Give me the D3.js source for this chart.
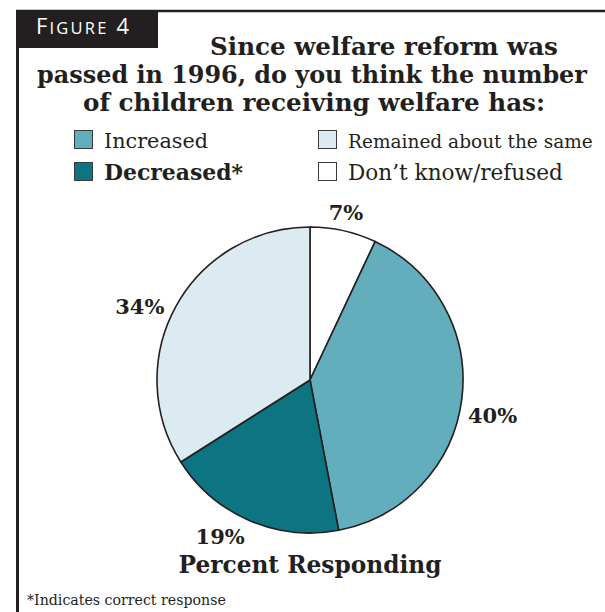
<!DOCTYPE html>
<html>
<head>
<meta charset="utf-8">
<script src="https://cdn.jsdelivr.net/npm/d3@7/dist/d3.min.js"></script>
<style>
  html, body { margin: 0; padding: 0; background: #fff; }
  svg { display: block; }
</style>
</head>
<body>
<svg id="chart" width="605" height="612"></svg>
<script>
// Survey answers, percent responding
const categories = ["Don\u2019t know/refused", "Increased", "Decreased*", "Remained about the same"];
const values = [7, 40, 19, 34];
const colors = ["#ffffff", "#63aebc", "#0d7482", "#dcebf1"];

// Legend layout order (two columns)
const legendOrder = ["Increased", "Decreased*", "Remained about the same", "Don\u2019t know/refused"];
const legendBold = ["Decreased*"];

const titleLines = [
  "Since welfare reform was",
  "passed in 1996, do you think the number",
  "of children receiving welfare has:"
];

const serif = "'DejaVu Serif', 'Liberation Serif', serif";
const svg = d3.select("#chart");

// Fit a text element to a target width by adjusting font-size
function fitWidth(sel, target) {
  const node = sel.node();
  const fs = parseFloat(sel.attr("font-size"));
  const w = node.getComputedTextLength();
  sel.attr("font-size", (fs * target / w).toFixed(2));
}

// Frame: left rule and top rule
svg.append("line").attr("x1", 17.5).attr("x2", 17.5).attr("y1", 10).attr("y2", 612)
  .attr("stroke", "#231f20").attr("stroke-width", 3);
svg.append("line").attr("x1", 16).attr("x2", 605).attr("y1", 11).attr("y2", 11)
  .attr("stroke", "#231f20").attr("stroke-width", 2.5);

// Figure tab
svg.append("rect").attr("x", 16).attr("y", 11).attr("width", 142).attr("height", 37)
  .attr("fill", "#231f20");
const tab = svg.append("text").attr("x", 36).attr("y", 34)
  .attr("fill", "#fff").attr("font-family", "'Open Sans', 'DejaVu Sans', sans-serif")
  .attr("letter-spacing", "2.2px");
tab.append("tspan").attr("font-size", 22).text("F");
tab.append("tspan").attr("font-size", 16.5).text("IGURE");
tab.append("tspan").attr("font-size", 22).attr("dx", 8).text("4");

// Title
const titleSpecs = [
  { x: 384, y: 55, w: 348 },
  { x: 312, y: 83, w: 550 },
  { x: 314, y: 111, w: 462 }
];
titleLines.forEach((t, i) => {
  const s = titleSpecs[i];
  const el = svg.append("text").attr("x", s.x).attr("y", s.y)
    .attr("text-anchor", "middle").attr("font-family", serif)
    .attr("font-weight", "bold").attr("font-size", 22).attr("fill", "#231f20")
    .text(t);
  fitWidth(el, s.w);
});

// Legend
const color = d3.scaleOrdinal().domain(categories).range(colors);
const legendPos = [
  { x: 74, y: 130, tw: 104 },
  { x: 74, y: 162, tw: 139 },
  { x: 318, y: 130, tw: 245 },
  { x: 318, y: 162, tw: 215 }
];
legendOrder.forEach((c, i) => {
  const p = legendPos[i];
  svg.append("rect").attr("x", p.x + 0.5).attr("y", p.y + 0.5)
    .attr("width", 18).attr("height", 18)
    .attr("fill", color(c)).attr("stroke", "#3a3a3a").attr("stroke-width", 1);
  const el = svg.append("text").attr("x", p.x + 30).attr("y", p.y + 18)
    .attr("font-family", serif).attr("font-size", 20).attr("fill", "#231f20")
    .attr("font-weight", legendBold.includes(c) ? "bold" : "normal")
    .text(c);
  fitWidth(el, p.tw);
});

// Pie
const cx = 310, cy = 380, radius = 153;
const pie = d3.pie().sort(null).value(d => d.value);
const arcs = pie(categories.map((c, i) => ({ name: c, value: values[i] })));
const arc = d3.arc().innerRadius(0).outerRadius(radius);

const g = svg.append("g").attr("transform", `translate(${cx},${cy})`);
g.selectAll("path.slice").data(arcs).join("path")
  .attr("class", "slice")
  .attr("d", arc)
  .attr("fill", d => color(d.data.name))
  .attr("stroke", "#231f20").attr("stroke-width", 1.6)
  .attr("stroke-linejoin", "round");

// Percent labels placed just outside each slice; a few are swung
// around the rim (degrees) to keep clear of neighbouring text
const labelSwing = { "Don\u2019t know/refused": -0.5, "Increased": 3.4, "Decreased*": 6.6, "Remained about the same": -5.1 };
const labelR = radius + 7;
arcs.forEach(d => {
  const a = (d.startAngle + d.endAngle) / 2 + (labelSwing[d.data.name] || 0) * Math.PI / 180;
  const el = g.append("text").attr("font-family", serif).attr("font-weight", "bold")
    .attr("font-size", 21).attr("fill", "#231f20").attr("text-anchor", "middle")
    .text(d.data.value + "%");
  const w = el.node().getComputedTextLength();
  const h = 17;
  const dist = labelR + (w / 2) * Math.abs(Math.sin(a)) + (h / 2) * Math.abs(Math.cos(a));
  const x = dist * Math.sin(a);
  const y = -dist * Math.cos(a);
  el.attr("x", x).attr("y", y + h / 2);
});

// Caption and footnote
const cap = svg.append("text").attr("x", 310).attr("y", 573).attr("text-anchor", "middle")
  .attr("font-family", serif).attr("font-weight", "bold").attr("font-size", 22)
  .attr("fill", "#231f20").text("Percent Responding");
fitWidth(cap, 263);

const foot = svg.append("text").attr("x", 27).attr("y", 605)
  .attr("font-family", serif).attr("font-size", 15).attr("fill", "#231f20")
  .text("*Indicates correct response");
fitWidth(foot, 199);
</script>
</body>
</html>
